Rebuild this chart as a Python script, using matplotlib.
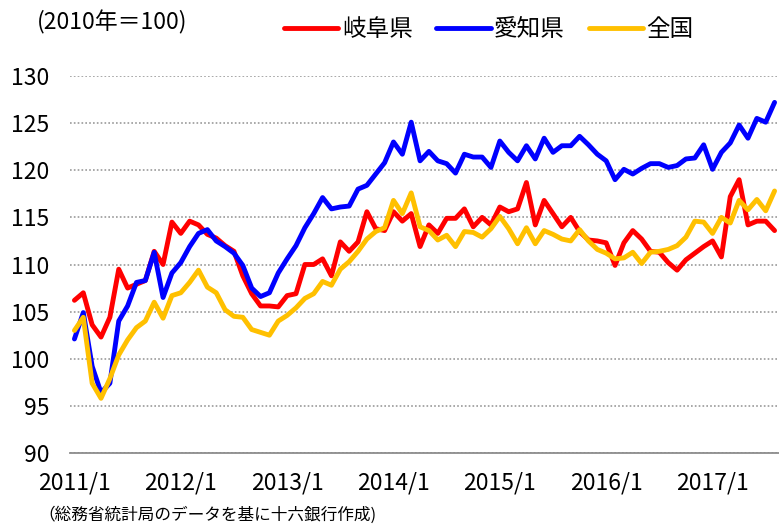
import matplotlib
matplotlib.use("Agg")
import matplotlib.pyplot as plt
import numpy as np

plt.rcParams["font.family"] = ["Noto Sans CJK JP", "DejaVu Sans"]

# monthly index (2010 = 100), 2011/1 .. 2017/8
gifu = [106.2, 107.0, 103.6, 102.3, 104.4, 109.5, 107.5, 107.9, 108.3, 111.4,
        110.0, 114.5, 113.3, 114.6, 114.2, 113.2, 112.8, 112.0, 111.4, 108.8,
        106.9, 105.6, 105.6, 105.5, 106.7, 106.9, 110.0, 110.0, 110.6, 108.8,
        112.4, 111.4, 112.4, 115.6, 113.8, 113.6, 115.6, 114.6, 115.4, 111.9,
        114.2, 113.3, 114.9, 114.9, 115.9, 114.0, 115.0, 114.2, 116.1, 115.6,
        115.9, 118.7, 114.2, 116.8, 115.4, 114.0, 115.0, 113.5, 112.6, 112.5,
        112.3, 109.9, 112.3, 113.6, 112.7, 111.4, 111.3, 110.2, 109.4, 110.5,
        111.2, 111.9, 112.5, 110.8, 117.2, 119.0, 114.2, 114.6, 114.6, 113.6]

aichi = [102.1, 104.9, 99.2, 96.4, 97.4, 104.0, 105.6, 108.1, 108.3, 111.3,
         106.5, 109.1, 110.2, 111.9, 113.3, 113.7, 112.5, 111.9, 111.2, 109.9,
         107.5, 106.6, 107.0, 109.1, 110.6, 112.0, 113.9, 115.4, 117.1, 115.9,
         116.1, 116.2, 118.0, 118.4, 119.6, 120.8, 123.0, 121.7, 125.1, 121.0,
         122.0, 121.0, 120.7, 119.7, 121.7, 121.4, 121.4, 120.3, 123.1, 121.9,
         121.0, 122.6, 121.2, 123.4, 121.9, 122.6, 122.6, 123.6, 122.7, 121.7,
         121.0, 119.0, 120.1, 119.6, 120.2, 120.7, 120.7, 120.3, 120.5, 121.2,
         121.3, 122.7, 120.1, 121.9, 122.9, 124.8, 123.4, 125.5, 125.1, 127.2]

zenkoku = [103.0, 104.4, 97.4, 95.8, 97.9, 100.4, 102.0, 103.3, 104.0, 106.0,
           104.3, 106.7, 107.0, 108.1, 109.4, 107.6, 107.0, 105.2, 104.5, 104.4,
           103.1, 102.8, 102.5, 104.0, 104.6, 105.4, 106.4, 106.9, 108.2, 107.8,
           109.5, 110.3, 111.4, 112.7, 113.5, 113.9, 116.8, 115.4, 117.6, 114.0,
           113.6, 112.6, 113.1, 111.9, 113.5, 113.4, 112.9, 113.8, 115.1, 113.8,
           112.2, 113.9, 112.2, 113.6, 113.2, 112.7, 112.5, 113.7, 112.5, 111.6,
           111.2, 110.6, 110.7, 111.3, 110.1, 111.3, 111.4, 111.6, 112.0, 112.9,
           114.6, 114.5, 113.3, 115.0, 114.4, 116.8, 115.8, 116.9, 115.7, 117.8]

series_names = ["岐阜県", "愛知県", "全国"]
series_colors = ["#FF0000", "#0000FF", "#FFC000"]
tick_labels = ["2011/1", "2012/1", "2013/1", "2014/1", "2015/1", "2016/1", "2017/1"]
tick_pos = [0, 12, 24, 36, 48, 60, 72]

x = np.arange(len(gifu))

fig = plt.figure(figsize=(7.79, 5.25), dpi=100)
ax = fig.add_axes([70 / 779, 1 - 453 / 525, 709 / 779, 377 / 525])

for vals, name, col in zip([gifu, aichi, zenkoku], series_names, series_colors):
    ax.plot(x, vals, color=col, lw=3.5, label=name, solid_joinstyle="round",
            solid_capstyle="round")

ax.set_xlim(-0.5, len(gifu) - 0.5)
ax.set_ylim(90, 130)
ax.set_yticks(np.arange(90, 131, 5))
ax.set_xticks(tick_pos)
ax.set_xticklabels(tick_labels)
ax.tick_params(axis="both", length=0, labelsize=16.5, colors="#000000")
ax.tick_params(axis="y", pad=15)
ax.tick_params(axis="x", pad=13)

for spine in ["top", "right", "left"]:
    ax.spines[spine].set_visible(False)
ax.spines["bottom"].set_color("#8c8c8c")
ax.spines["bottom"].set_linewidth(1.3)

ax.yaxis.grid(True, color="#9a9a9a", lw=1.2, linestyle=(0, (1, 1.3)))
ax.set_axisbelow(True)

fig.text(37 / 779, 1 - 22 / 525, "(2010年＝100)", fontsize=16.5, va="center", ha="left")
fig.text(38 / 779, 1 - 515 / 525, "（総務省統計局のデータを基に十六銀行作成)",
         fontsize=12, va="center", ha="left")

fig.legend(loc="center left", bbox_to_anchor=(284 / 779, 1 - 30 / 525), ncol=3,
           frameon=False, fontsize=17, handlelength=2.3, handletextpad=0.15,
           columnspacing=1.0, borderpad=0, borderaxespad=0)

fig.savefig("out.png", dpi=100)
